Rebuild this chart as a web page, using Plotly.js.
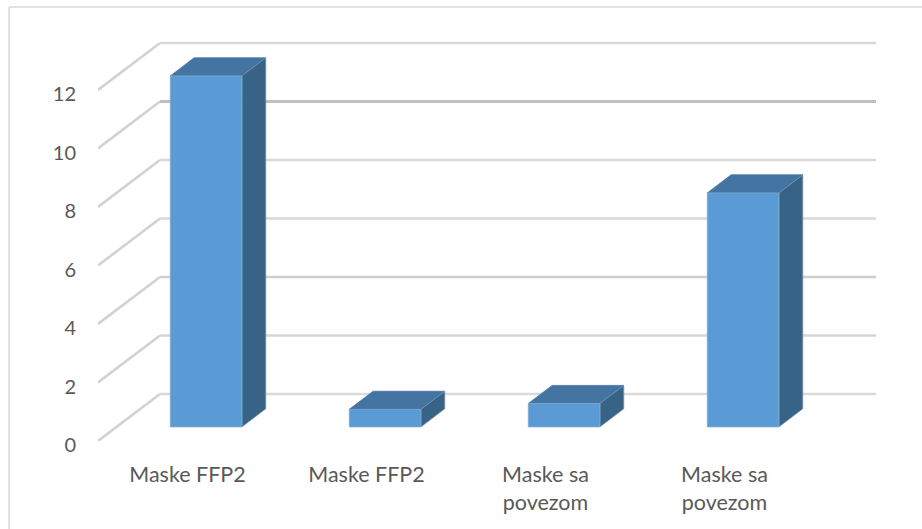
<!DOCTYPE html>
<html><head><meta charset="utf-8">
<script src="https://cdn.plot.ly/plotly-3.0.1.min.js"></script>
<style>html,body{margin:0;padding:0;background:#fff;overflow:hidden}</style>
</head><body><div id="chart" style="width:922px;height:529px"></div>
<script>
const categories = ['Maske FFP2', 'Maske FFP2', 'Maske sa<br>povezom', 'Maske sa<br>povezom'];
const values = [12, 0.6, 0.8, 8];
const yTicks = [0, 2, 4, 6, 8, 10, 12];
const gridColors = ['#d9d9d9', '#d6d6d6', '#cfcfcf', '#d9d9d9', '#d9d9d9', '#bfbfbf', '#d9d9d9'];

const W = 922, H = 529, L = 98, R = 46, T = 40, B = 88;
const pxPerCat = 179, pxPerVal = 29.25;
const xMax = (W - L - R) / pxPerCat, yMax = (H - T - B) / pxPerVal;
const depthX = 62 / pxPerCat, depthY = 47 / pxPerVal;
const barW = 0.4, barD0 = 0.3, barD1 = 0.685;
const px = (x, d) => x + depthX * d, py = (v, d) => v + depthY * d;

const traces = [];
yTicks.forEach((t, i) => {
  traces.push({
    x: [px(0, 0), px(0, 1)], y: [py(t, 0), py(t, 1)],
    mode: 'lines', line: {color: '#d2d2d2', width: 2.6},
    hoverinfo: 'skip', cliponaxis: false, showlegend: false
  });
  traces.push({
    x: [px(0, 1), xMax], y: [py(t, 1), py(t, 1)],
    mode: 'lines', line: {color: gridColors[i], width: i === 5 ? 3 : 2.6},
    hoverinfo: 'skip', cliponaxis: false, showlegend: false
  });
});
function poly(xs, ys, color, name, edge) {
  traces.push({
    x: xs.concat(xs[0]), y: ys.concat(ys[0]), mode: 'lines', fill: 'toself', fillcolor: color,
    line: {color: edge, width: 0.8}, name: name, hoverinfo: 'skip', cliponaxis: false, showlegend: false
  });
}
values.forEach((v, i) => {
  const x0 = i + 0.5 - barW / 2, x1 = i + 0.5 + barW / 2;
  poly([px(x0, barD0), px(x1, barD0), px(x1, barD1), px(x0, barD1)],
       [py(v, barD0), py(v, barD0), py(v, barD1), py(v, barD1)], '#4475a2', 'top', '#4475a2');
  poly([px(x1, barD0), px(x1, barD1), px(x1, barD1), px(x1, barD0)],
       [py(0, barD0), py(0, barD1), py(v, barD1), py(v, barD0)], '#376387', 'side', '#7d93a8');
  poly([px(x0, barD0), px(x1, barD0), px(x1, barD0), px(x0, barD0)],
       [py(0, barD0), py(0, barD0), py(v, barD0), py(v, barD0)], '#5b9bd5', 'front', '#7fa9cf');
});

const xFont = {family: 'Lato, Carlito, sans-serif', size: 21.5, color: '#595959'};
const yFont = {family: 'Lato, Carlito, sans-serif', size: 20, color: '#595959'};
const plotW = W - L - R, plotH = H - T - B;
const layout = {
  width: W, height: H, margin: {l: L, r: R, t: T, b: B, pad: 0},
  paper_bgcolor: '#fff', plot_bgcolor: '#fff', showlegend: false,
  xaxis: {range: [0, xMax], showgrid: false, zeroline: false, showline: false,
    tickmode: 'array', tickvals: categories.map((c, i) => i + 0.5), ticktext: categories,
    ticks: 'outside', ticklen: 14, tickcolor: 'rgba(0,0,0,0)', tickangle: 0, tickfont: xFont},
  yaxis: {range: [0, yMax], showgrid: false, zeroline: false, showline: false,
    tickmode: 'array', tickvals: yTicks, ticktext: yTicks.map(String),
    ticks: 'outside', ticklen: 17, tickcolor: 'rgba(0,0,0,0)', tickfont: yFont, ticklabelshift: 4},
  shapes: [
    {type: 'line', xref: 'paper', yref: 'paper', x0: (9 - L) / plotW, x1: (W - L) / plotW,
     y0: (H - B - 7) / plotH, y1: (H - B - 7) / plotH, line: {color: '#d9d9d9', width: 1.5}},
    {type: 'line', xref: 'paper', yref: 'paper', x0: (9 - L) / plotW, x1: (9 - L) / plotW,
     y0: (H - B - 7) / plotH, y1: (H - B - H) / plotH, line: {color: '#d9d9d9', width: 1.5}}
  ]
};
Plotly.newPlot('chart', traces, layout, {displayModeBar: false, staticPlot: true});
</script></body></html>
